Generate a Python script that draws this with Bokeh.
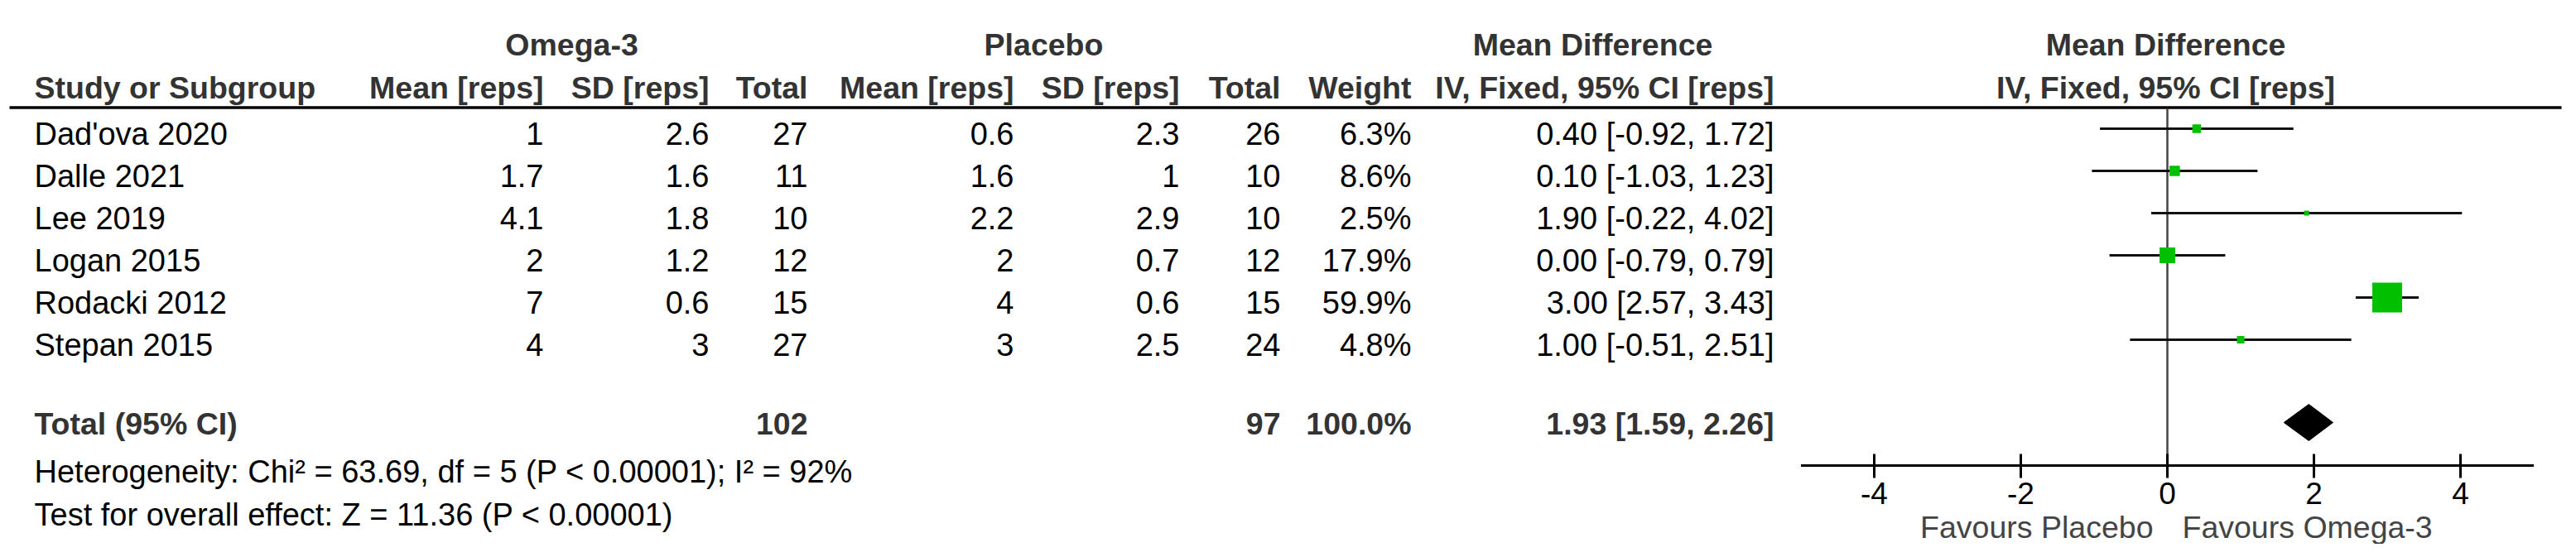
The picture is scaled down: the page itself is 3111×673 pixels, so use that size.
import math
from bokeh.plotting import figure
from bokeh.models import Range1d, ColumnDataSource
from bokeh.core.properties import value
from bokeh.embed import file_html
from bokeh.resources import INLINE

# ---------------- data ----------------
studies = ["Dad'ova 2020", "Dalle 2021", "Lee 2019", "Logan 2015", "Rodacki 2012", "Stepan 2015"]
om_mean = [1, 1.7, 4.1, 2, 7, 4]
om_sd = [2.6, 1.6, 1.8, 1.2, 0.6, 3]
om_n = [27, 11, 10, 12, 15, 27]
pl_mean = [0.6, 1.6, 2.2, 2, 4, 3]
pl_sd = [2.3, 1, 2.9, 0.7, 0.6, 2.5]
pl_n = [26, 10, 10, 12, 15, 24]
weight = [6.3, 8.6, 2.5, 17.9, 59.9, 4.8]
md = [0.40, 0.10, 1.90, 0.00, 3.00, 1.00]
ci_lo = [-0.92, -1.03, -0.22, -0.79, 2.57, -0.51]
ci_hi = [1.72, 1.23, 4.02, 0.79, 3.43, 2.51]

total_label = "Total (95% CI)"
total_om_n = 102
total_pl_n = 97
total_weight = 100.0
total_md = 1.93
total_lo = 1.59
total_hi = 2.26
heterogeneity = "Heterogeneity: Chi\u00b2 = 63.69, df = 5 (P < 0.00001); I\u00b2 = 92%"
overall = "Test for overall effect: Z = 11.36 (P < 0.00001)"

group_headers = ["Omega-3", "Placebo", "Mean Difference", "Mean Difference"]
col_headers = ["Mean [reps]", "SD [reps]", "Total", "Mean [reps]", "SD [reps]", "Total",
               "Weight", "IV, Fixed, 95% CI [reps]"]
plot_header = "IV, Fixed, 95% CI [reps]"
study_header = "Study or Subgroup"
ticks = [-4, -2, 0, 2, 4]
axis_bounds = [-5, 5]
favours_left = "Favours Placebo"
favours_right = "Favours Omega-3"

# ---------------- layout (screen pixel coordinates) ----------------
W, H = 3095, 657
ZERO_PX = 2617.0
UNIT_PX = 88.5
FONT = "Liberation Sans"
FS_REG = "38px"
FS_BOLD = "37.5px"
BOLD_COL = "#333333"
TEXT_DY = -14  # compensation for how text baselines are placed
LEFT_X = 41

p = figure(width=W, height=H, output_backend="svg", toolbar_location=None,
           x_axis_location=None, y_axis_location=None, min_border=0,
           x_range=Range1d(0, W), y_range=Range1d(H, 0))
p.outline_line_color = None
p.grid.visible = False
p.extra_x_ranges = {"md": Range1d((0 - ZERO_PX) / UNIT_PX, (W - ZERO_PX) / UNIT_PX)}

def fmt(v):
    return f"{v:g}"

row_base = [175 + 51 * i for i in range(len(studies))]
row_line = [b - 20 for b in row_base]

def txt(xs, ys, texts, align="left", bold=False, color=None, size=None, rng="default"):
    src = ColumnDataSource(dict(x=xs, y=[y + TEXT_DY for y in ys], t=texts))
    kw = {}
    if rng != "default":
        kw["x_range_name"] = rng
    p.text(x="x", y="y", text="t", source=src, text_align=align,
           text_baseline="alphabetic", text_font=value(FONT),
           text_font_size=value(size or (FS_BOLD if bold else FS_REG)),
           text_font_style="bold" if bold else "normal",
           text_color=color if color else (BOLD_COL if bold else "black"), **kw)

# headers
txt([690, 1260, 1923, 2615], [67] * 4, group_headers, align="center", bold=True)
txt([LEFT_X], [119], [study_header], bold=True)
col_right = [656, 856, 975, 1224, 1424, 1546, 1704, 2142]
txt(col_right, [119] * len(col_right), col_headers, align="right", bold=True)
txt([2615], [119], [plot_header], align="center", bold=True)

# header rule
p.segment(x0=[11], x1=[3093], y0=[129.5], y1=[129.5], line_color="black", line_width=3.5)

# study rows
txt([LEFT_X] * len(studies), row_base, studies)
columns = [
    [fmt(v) for v in om_mean], [fmt(v) for v in om_sd], [str(v) for v in om_n],
    [fmt(v) for v in pl_mean], [fmt(v) for v in pl_sd], [str(v) for v in pl_n],
    [f"{w:.1f}%" for w in weight],
    [f"{m:.2f} [{l:.2f}, {h:.2f}]" for m, l, h in zip(md, ci_lo, ci_hi)],
]
for xr, col in zip(col_right, columns):
    txt([xr] * len(col), row_base, col, align="right")

# total row
TOT_BASE = 525
txt([LEFT_X], [TOT_BASE], [total_label], bold=True)
txt([975, 1546, 1704, 2142], [TOT_BASE] * 4,
    [str(total_om_n), str(total_pl_n), f"{total_weight:.1f}%",
     f"{total_md:.2f} [{total_lo:.2f}, {total_hi:.2f}]"], align="right", bold=True)

txt([LEFT_X], [583], [heterogeneity])
txt([LEFT_X], [635], [overall])

# forest plot
AXIS_Y = 562
p.segment(x0=[0], x1=[0], y0=[131], y1=[AXIS_Y], x_range_name="md",
          line_color="#444444", line_width=2.5)
p.segment(x0=ci_lo, x1=ci_hi, y0=row_line, y1=row_line, x_range_name="md",
          line_color="#111111", line_width=2.8)
sizes = [4.87 * math.sqrt(w) - 1.7 for w in weight]
p.scatter(x=md, y=row_line, size=sizes, marker="square", x_range_name="md",
          fill_color="#00C000", line_color=None)
TOT_Y, DH = 510, 22
p.patch(x=[total_lo, total_md, total_hi, total_md],
        y=[TOT_Y, TOT_Y - DH, TOT_Y, TOT_Y + DH], x_range_name="md",
        fill_color="black", line_color="black", line_width=1)

# x axis (drawn on the mean-difference scale)
p.segment(x0=[axis_bounds[0]], x1=[axis_bounds[1]], y0=[AXIS_Y], y1=[AXIS_Y],
          x_range_name="md", line_color="black", line_width=3)
p.segment(x0=ticks, x1=ticks, y0=[AXIS_Y - 14] * len(ticks), y1=[AXIS_Y + 15] * len(ticks),
          x_range_name="md", line_color="black", line_width=3)
txt(ticks, [609] * len(ticks), [str(t) for t in ticks], align="center",
    size="37px", rng="md")

txt([2600], [650], [favours_left], align="right", color="#444444", size="37.5px")
txt([2635], [650], [favours_right], align="left", color="#444444", size="37.5px")

open("out.html", "w").write(file_html(p, INLINE))
